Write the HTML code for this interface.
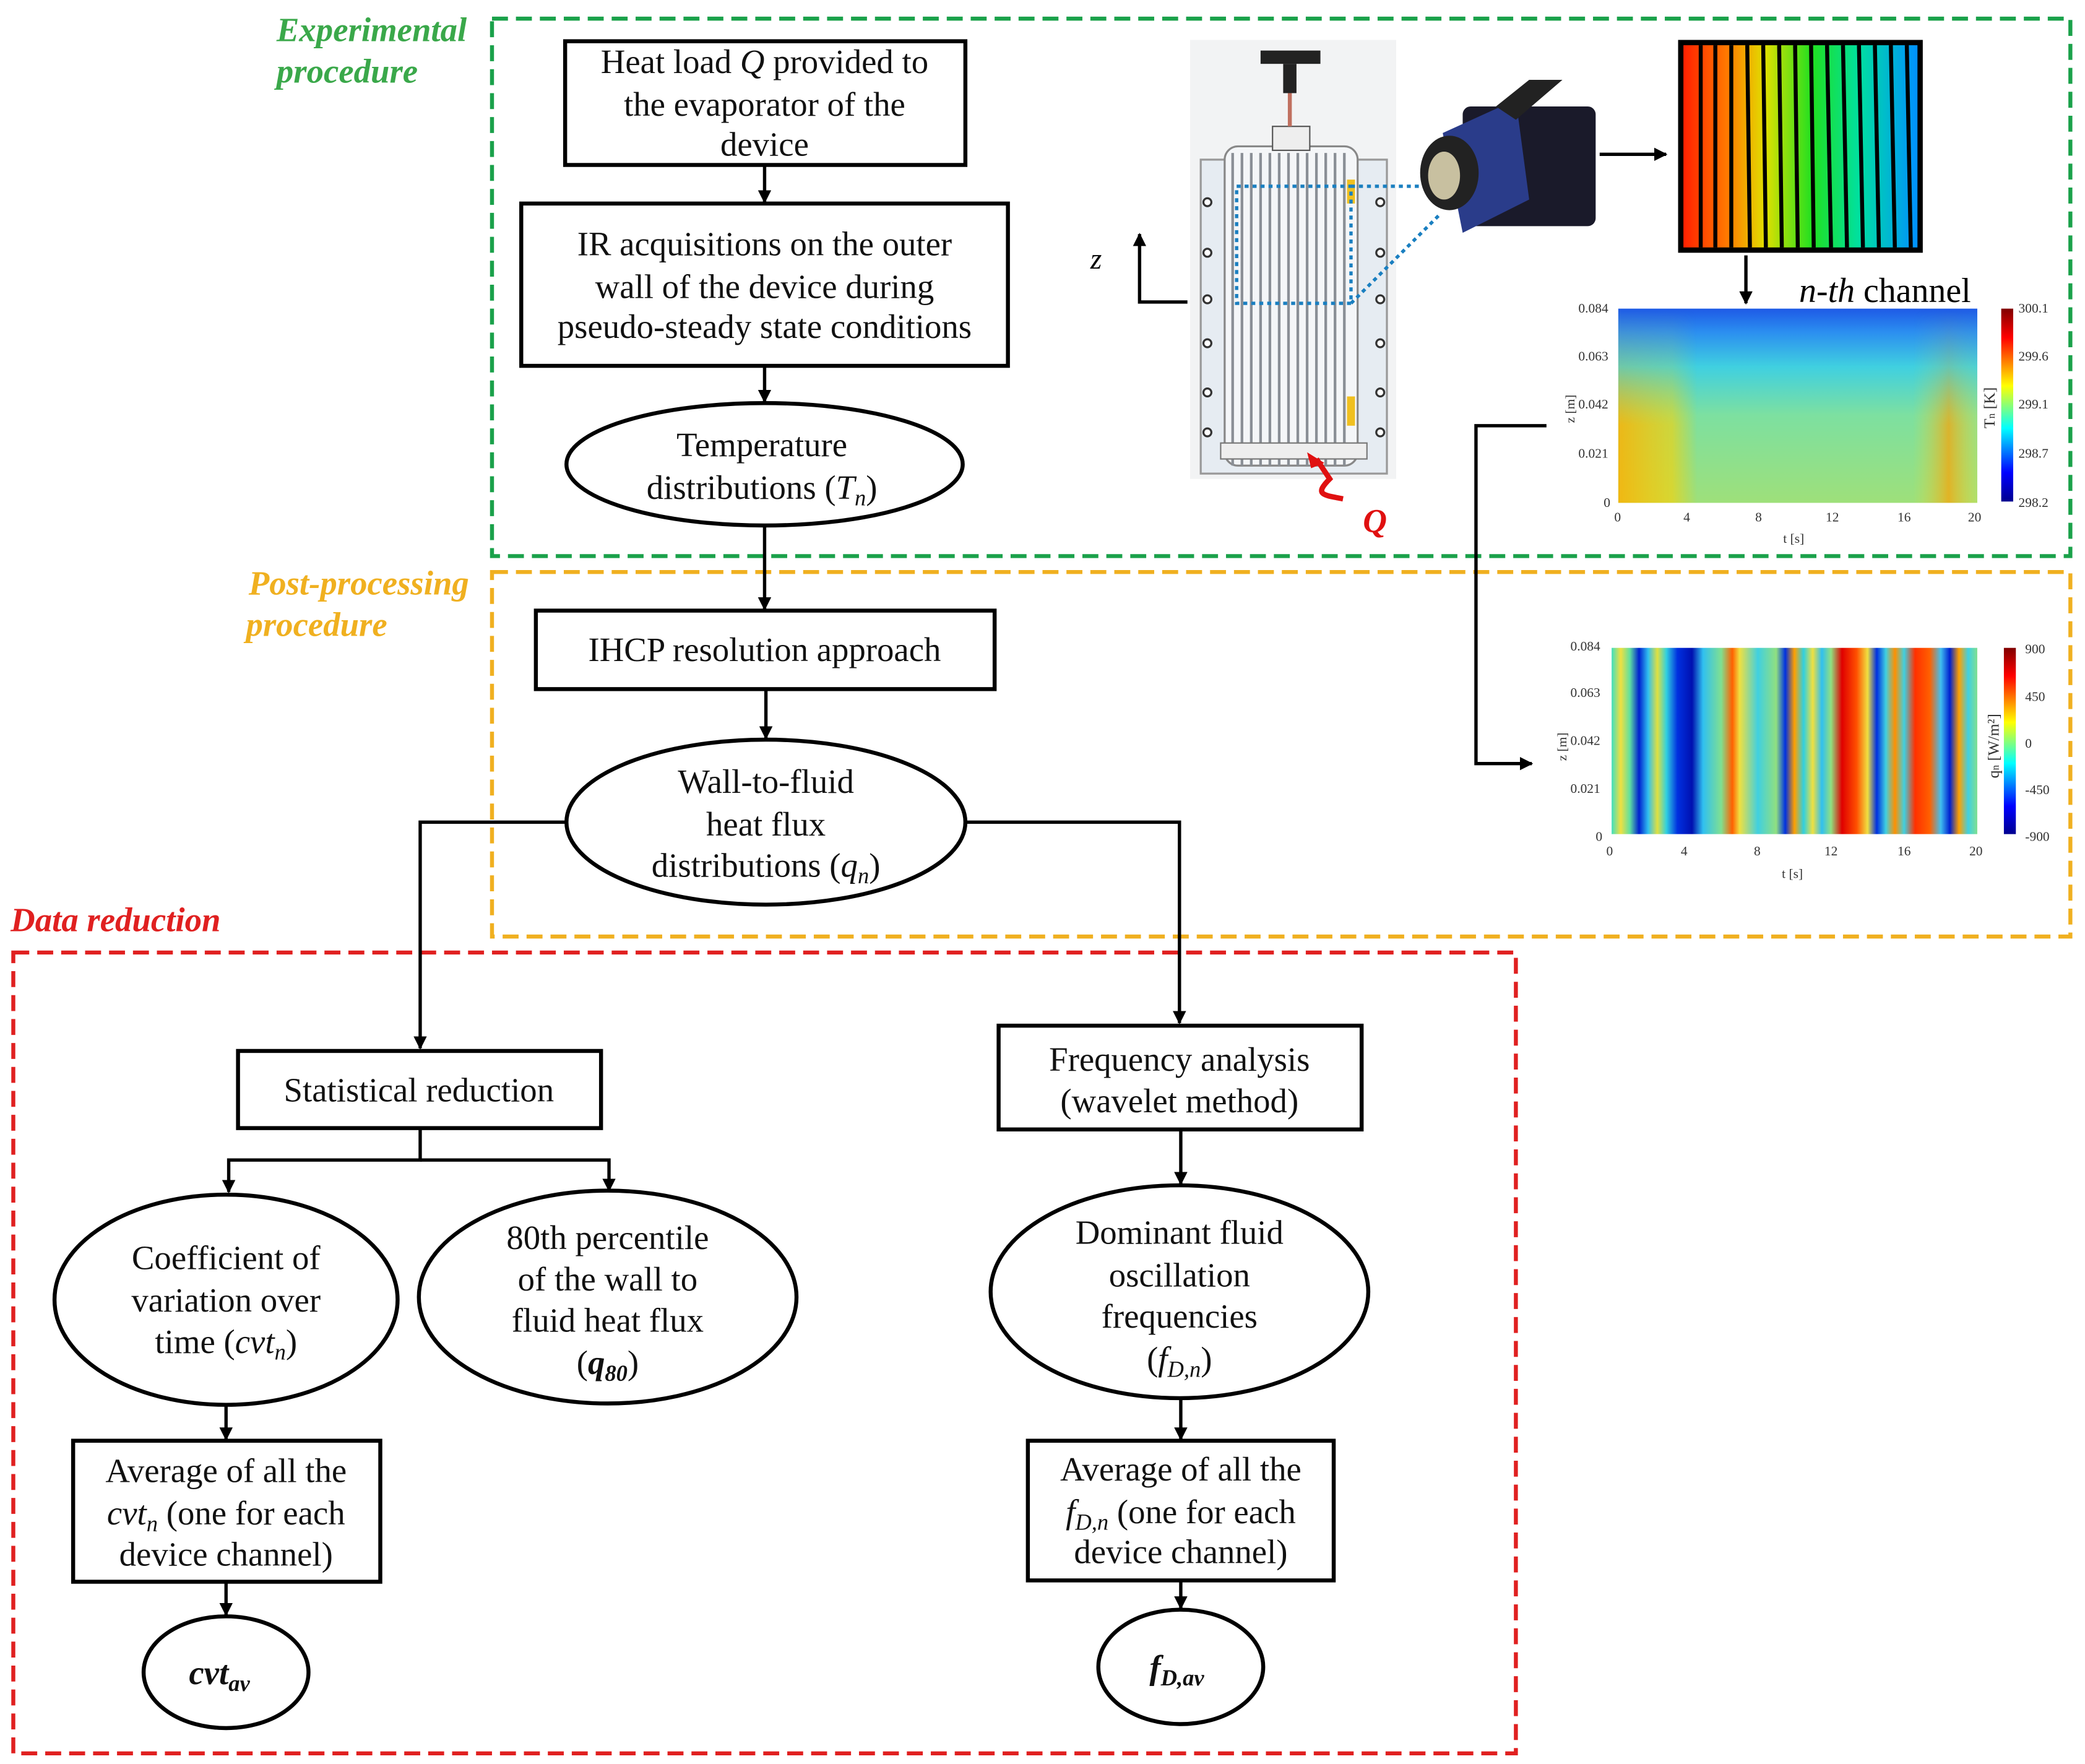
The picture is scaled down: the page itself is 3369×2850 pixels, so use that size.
<!DOCTYPE html>
<html><head><meta charset="utf-8"><style>
html,body{margin:0;padding:0;background:#fff}
svg{display:block}
text{font-family:"Liberation Serif",serif;}
</style></head><body>
<svg width="3369" height="2850" viewBox="0 0 1568 1326" preserveAspectRatio="none" xmlns="http://www.w3.org/2000/svg">
<defs>
<marker id="ar" markerWidth="10" markerHeight="10" refX="9" refY="5" orient="auto" markerUnits="userSpaceOnUse"><path d="M0,0 L10,5 L0,10 z" fill="#000"/></marker>
<linearGradient id="jet" x1="0" y1="1" x2="0" y2="0"><stop offset="0" stop-color="#00008f"/><stop offset="0.15" stop-color="#0000ff"/><stop offset="0.38" stop-color="#00ffff"/><stop offset="0.6" stop-color="#ffff00"/><stop offset="0.85" stop-color="#ff0000"/><stop offset="1" stop-color="#800000"/></linearGradient>
<linearGradient id="h1v" x1="0" y1="0" x2="0" y2="1"><stop offset="0" stop-color="#1e5ae6"/><stop offset="0.12" stop-color="#2b8ef0"/><stop offset="0.3" stop-color="#40d0e0"/><stop offset="0.55" stop-color="#7de0a0"/><stop offset="1" stop-color="#9ee07a"/></linearGradient>
<linearGradient id="h1h" x1="0" y1="0" x2="1" y2="0"><stop offset="0" stop-color="#ffb000" stop-opacity="0.85"/><stop offset="0.15" stop-color="#ffd000" stop-opacity="0.6"/><stop offset="0.22" stop-color="#ffd000" stop-opacity="0"/><stop offset="0.82" stop-color="#e0e040" stop-opacity="0"/><stop offset="0.92" stop-color="#ffa000" stop-opacity="0.7"/><stop offset="1" stop-color="#e0e040" stop-opacity="0.3"/></linearGradient>
<linearGradient id="h1m" x1="0" y1="0" x2="0" y2="1"><stop offset="0" stop-color="#fff" stop-opacity="0"/><stop offset="0.3" stop-color="#fff" stop-opacity="0.3"/><stop offset="0.6" stop-color="#fff" stop-opacity="1"/><stop offset="1" stop-color="#fff" stop-opacity="1"/></linearGradient>
<mask id="m1"><rect x="1217" y="232" width="270" height="146" fill="url(#h1m)"/></mask>
<linearGradient id="h2" x1="0" y1="0" x2="1" y2="0">
<stop offset="0" stop-color="#40e0c0"/><stop offset="0.025" stop-color="#f0e040"/><stop offset="0.05" stop-color="#60e0a0"/><stop offset="0.075" stop-color="#0020d0"/><stop offset="0.1" stop-color="#30c0f0"/><stop offset="0.125" stop-color="#e0e040"/><stop offset="0.15" stop-color="#30d0e0"/><stop offset="0.18" stop-color="#0030e0"/><stop offset="0.22" stop-color="#0010b0"/><stop offset="0.25" stop-color="#30c0f0"/><stop offset="0.3" stop-color="#80e090"/><stop offset="0.33" stop-color="#ff6000"/><stop offset="0.35" stop-color="#f0e040"/><stop offset="0.4" stop-color="#40d0e0"/><stop offset="0.45" stop-color="#90e080"/><stop offset="0.475" stop-color="#0030e0"/><stop offset="0.5" stop-color="#ffa000"/><stop offset="0.525" stop-color="#30d0e0"/><stop offset="0.55" stop-color="#f0e040"/><stop offset="0.575" stop-color="#30c0f0"/><stop offset="0.6" stop-color="#90e080"/><stop offset="0.63" stop-color="#e00000"/><stop offset="0.67" stop-color="#ff5000"/><stop offset="0.7" stop-color="#f0e040"/><stop offset="0.725" stop-color="#0030e0"/><stop offset="0.75" stop-color="#40d0e0"/><stop offset="0.775" stop-color="#ff9000"/><stop offset="0.8" stop-color="#40d0e0"/><stop offset="0.83" stop-color="#ff3000"/><stop offset="0.87" stop-color="#ff6000"/><stop offset="0.9" stop-color="#40c0f0"/><stop offset="0.925" stop-color="#0020d0"/><stop offset="0.95" stop-color="#ffa000"/><stop offset="0.975" stop-color="#40d0e0"/><stop offset="1" stop-color="#80e090"/></linearGradient>
<linearGradient id="ir" x1="0" y1="0" x2="1" y2="0"><stop offset="0" stop-color="#ff2000"/><stop offset="0.2" stop-color="#ff8000"/><stop offset="0.35" stop-color="#e0e000"/><stop offset="0.55" stop-color="#20e020"/><stop offset="0.75" stop-color="#00e0a0"/><stop offset="1" stop-color="#0090ff"/></linearGradient>
</defs>

<rect x="370" y="14" width="1187" height="404" fill="none" stroke="#1aa14a" stroke-width="3" stroke-dasharray="12,6"/>
<rect x="370" y="430" width="1187" height="274" fill="none" stroke="#f0b020" stroke-width="3" stroke-dasharray="12,6"/>
<rect x="10" y="716" width="1130" height="602" fill="none" stroke="#e02020" stroke-width="3" stroke-dasharray="12,6"/>
<g font-style="italic" font-weight="bold" font-size="25.5">
<text x="208" y="31" fill="#3aa84a">Experimental</text><text x="208" y="62" fill="#3aa84a">procedure</text>
<text x="187" y="447" fill="#f0b020">Post-processing</text><text x="185" y="478" fill="#f0b020">procedure</text>
<text x="8" y="700" fill="#e02020">Data reduction</text>
</g>

<g fill="none" stroke="#000" stroke-width="3">
<rect x="425" y="31" width="301" height="93" fill="#fff"/>
<rect x="392" y="153" width="366" height="122" fill="#fff"/>
<ellipse cx="575" cy="349" rx="149" ry="46"/>
<rect x="403" y="459" width="345" height="59"/>
<ellipse cx="576" cy="618" rx="150" ry="62"/>
<rect x="179" y="790" width="273" height="58"/>
<rect x="751" y="771" width="273" height="78"/>
<ellipse cx="170" cy="977" rx="129" ry="79"/>
<ellipse cx="457" cy="975" rx="142" ry="80"/>
<ellipse cx="887" cy="971" rx="142" ry="80"/>
<rect x="55" y="1083" width="231" height="106"/>
<rect x="773" y="1083" width="230" height="105"/>
<ellipse cx="170" cy="1257" rx="62" ry="42"/>
<ellipse cx="888" cy="1253" rx="62" ry="43"/>
</g>
<g fill="none" stroke="#000" stroke-width="2.5" marker-end="url(#ar)">
<line x1="575" y1="124" x2="575" y2="152"/>
<line x1="575" y1="275" x2="575" y2="302"/>
<line x1="575" y1="395" x2="575" y2="458"/>
<line x1="576" y1="518" x2="576" y2="555"/>
<polyline points="426,618 316,618 316,788"/>
<polyline points="726,618 887,618 887,769"/>
<polyline points="316,848 316,872 172,872 172,896"/>
<polyline points="316,872 458,872 458,895"/>
<line x1="888" y1="849" x2="888" y2="890"/>
<line x1="170" y1="1056" x2="170" y2="1082"/>
<line x1="888" y1="1051" x2="888" y2="1082"/>
<line x1="170" y1="1189" x2="170" y2="1214"/>
<line x1="888" y1="1188" x2="888" y2="1209"/>
<line x1="1203" y1="116" x2="1253" y2="116"/>
<line x1="1313" y1="192" x2="1313" y2="228"/>
<polyline points="1163,320 1110,320 1110,574 1152,574"/>
<polyline points="893,227 857,227 857,176"/>
</g>

<g font-size="25.5" text-anchor="middle" fill="#111">
<text x="575" y="55">Heat load <tspan font-style="italic">Q</tspan> provided to</text>
<text x="575" y="87">the evaporator of the</text>
<text x="575" y="117">device</text>
<text x="575" y="192">IR acquisitions on the outer</text>
<text x="575" y="224">wall of the device during</text>
<text x="575" y="254">pseudo-steady state conditions</text>
<text x="573" y="343">Temperature</text>
<text x="573" y="375">distributions (<tspan font-style="italic">T<tspan font-size="17" dy="5">n</tspan></tspan><tspan dy="-5">)</tspan></text>
<text x="575" y="497">IHCP resolution approach</text>
<text x="576" y="596">Wall-to-fluid</text>
<text x="576" y="628">heat flux</text>
<text x="576" y="659">distributions (<tspan font-style="italic">q<tspan font-size="17" dy="5">n</tspan></tspan><tspan dy="-5">)</tspan></text>
<text x="315" y="828">Statistical reduction</text>
<text x="887" y="805">Frequency analysis</text>
<text x="887" y="836">(wavelet method)</text>
<text x="170" y="954">Coefficient of</text>
<text x="170" y="986">variation over</text>
<text x="170" y="1017">time (<tspan font-style="italic">cvt<tspan font-size="17" dy="5">n</tspan></tspan><tspan dy="-5">)</tspan></text>
<text x="457" y="939">80th percentile</text>
<text x="457" y="970">of the wall to</text>
<text x="457" y="1001">fluid heat flux</text>
<text x="457" y="1033">(<tspan font-style="italic" font-weight="bold">q<tspan font-size="17" dy="5">80</tspan></tspan><tspan dy="-5">)</tspan></text>
<text x="887" y="935">Dominant fluid</text>
<text x="887" y="967">oscillation</text>
<text x="887" y="998">frequencies</text>
<text x="887" y="1030">(<tspan font-style="italic">f<tspan font-size="17" dy="5">D,n</tspan></tspan><tspan dy="-5">)</tspan></text>
<text x="170" y="1114">Average of all the</text>
<text x="170" y="1146"><tspan font-style="italic">cvt<tspan font-size="17" dy="5">n</tspan></tspan><tspan dy="-5"> (one for each</tspan></text>
<text x="170" y="1177">device channel)</text>
<text x="888" y="1113">Average of all the</text>
<text x="888" y="1145"><tspan font-style="italic">f<tspan font-size="17" dy="5">D,n</tspan></tspan><tspan dy="-5"> (one for each</tspan></text>
<text x="888" y="1175">device channel)</text>
<text x="165" y="1266" font-style="italic" font-weight="bold">cvt<tspan font-size="17" dy="5">av</tspan></text>
<text x="885" y="1262" font-style="italic" font-weight="bold">f<tspan font-size="17" dy="5">D,av</tspan></text>
</g>

<rect x="895" y="30" width="155" height="330" fill="#f2f3f4"/>
<rect x="903" y="120" width="140" height="236" fill="#e6ecf2" stroke="#999" stroke-width="1.5"/>
<rect x="921" y="110" width="100" height="240" rx="10" fill="#f4f6f8" stroke="#888" stroke-width="1.5"/>
<g stroke="#8a8f96" stroke-width="2">
<line x1="927" y1="115" x2="927" y2="350"/><line x1="934" y1="115" x2="934" y2="350"/><line x1="941" y1="115" x2="941" y2="350"/><line x1="948" y1="115" x2="948" y2="350"/><line x1="955" y1="115" x2="955" y2="350"/><line x1="962" y1="115" x2="962" y2="350"/><line x1="969" y1="115" x2="969" y2="350"/><line x1="976" y1="115" x2="976" y2="350"/><line x1="983" y1="115" x2="983" y2="350"/><line x1="990" y1="115" x2="990" y2="350"/><line x1="997" y1="115" x2="997" y2="350"/><line x1="1004" y1="115" x2="1004" y2="350"/><line x1="1011" y1="115" x2="1011" y2="350"/>
</g>
<rect x="918" y="333" width="110" height="12" fill="#eee" stroke="#777"/>
<rect x="957" y="95" width="28" height="18" fill="#eee" stroke="#555"/>
<line x1="970" y1="70" x2="970" y2="95" stroke="#c07060" stroke-width="3"/>
<rect x="948" y="38" width="45" height="10" fill="#222"/><rect x="965" y="48" width="10" height="22" fill="#222"/>
<rect x="1013" y="135" width="6" height="18" fill="#f0c020"/><rect x="1013" y="298" width="6" height="22" fill="#f0c020"/>
<g fill="#fff" stroke="#333" stroke-width="1.5"><circle cx="908" cy="152" r="3"/><circle cx="908" cy="190" r="3"/><circle cx="908" cy="225" r="3"/><circle cx="908" cy="258" r="3"/><circle cx="908" cy="295" r="3"/><circle cx="908" cy="325" r="3"/><circle cx="1038" cy="152" r="3"/><circle cx="1038" cy="190" r="3"/><circle cx="1038" cy="225" r="3"/><circle cx="1038" cy="258" r="3"/><circle cx="1038" cy="295" r="3"/><circle cx="1038" cy="325" r="3"/></g>
<g fill="none" stroke="#1a7fc0" stroke-width="2.5" stroke-dasharray="3,3">
<rect x="930" y="140" width="86" height="88"/><line x1="1016" y1="140" x2="1080" y2="140"/><line x1="1016" y1="228" x2="1082" y2="162"/>
</g>
<path d="M1010,375 C995,372 988,372 1000,360 L990,345" fill="none" stroke="#e01010" stroke-width="4"/>
<path d="M983,340 L996,348 L986,352 z" fill="#e01010"/>
<text x="1025" y="400" font-size="25" font-style="italic" font-weight="bold" fill="#e01010">Q</text>
<text x="820" y="202" font-size="22" font-style="italic">z</text>

<rect x="1100" y="80" width="100" height="90" rx="6" fill="#1a1a2a"/>
<path d="M1085,100 L1140,75 L1150,150 L1100,175 z" fill="#2a3c8a"/>
<path d="M1125,80 L1150,60 L1175,60 L1140,90 z" fill="#222"/>
<ellipse cx="1090" cy="130" rx="22" ry="28" fill="#222"/>
<ellipse cx="1086" cy="132" rx="12" ry="18" fill="#c8c0a0"/>

<rect x="1262" y="30" width="184" height="160" fill="#000"/>
<rect x="1266" y="34" width="176" height="152" fill="url(#ir)"/>
<g stroke="#000" stroke-width="3">
<line x1="1279" y1="34" x2="1279" y2="186"/><line x1="1290" y1="34" x2="1290" y2="186"/><line x1="1302" y1="34" x2="1302" y2="186"/><line x1="1314" y1="34" x2="1316" y2="186"/><line x1="1326" y1="34" x2="1328" y2="186"/><line x1="1338" y1="34" x2="1340" y2="186"/><line x1="1350" y1="34" x2="1352" y2="186"/><line x1="1362" y1="34" x2="1364" y2="186"/><line x1="1374" y1="34" x2="1377" y2="186"/><line x1="1386" y1="34" x2="1389" y2="186"/><line x1="1398" y1="34" x2="1401" y2="186"/><line x1="1410" y1="34" x2="1413" y2="186"/><line x1="1422" y1="34" x2="1425" y2="186"/><line x1="1434" y1="34" x2="1437" y2="186"/>
</g>

<text x="1353" y="227" font-size="26"><tspan font-style="italic">n-th</tspan> channel</text>

<rect x="1217" y="232" width="270" height="146" fill="url(#h1v)"/>
<rect x="1217" y="232" width="270" height="146" fill="url(#h1h)" mask="url(#m1)"/>
<rect x="1505" y="232" width="9" height="145" fill="url(#jet)"/>
<g font-size="10" fill="#333">
<text x="1187" y="235">0.084</text><text x="1187" y="271">0.063</text><text x="1187" y="307">0.042</text><text x="1187" y="344">0.021</text><text x="1206" y="381">0</text>
<text x="1214" y="392">0</text><text x="1266" y="392">4</text><text x="1320" y="392">8</text><text x="1373" y="392">12</text><text x="1427" y="392">16</text><text x="1480" y="392">20</text>
<text x="1341" y="408">t [s]</text>
<text x="1518" y="235">300.1</text><text x="1518" y="271">299.6</text><text x="1518" y="307">299.1</text><text x="1518" y="344">298.7</text><text x="1518" y="381">298.2</text>
<text transform="translate(1184,318) rotate(-90)">z [m]</text>
<text transform="translate(1500,322) rotate(-90)" font-size="12">T<tspan font-size="8">n</tspan> [K]</text>
</g>

<rect x="1212" y="487" width="275" height="140" fill="url(#h2)"/>
<rect x="1507" y="487" width="9" height="140" fill="url(#jet)"/>
<g font-size="10" fill="#333">
<text x="1181" y="489">0.084</text><text x="1181" y="524">0.063</text><text x="1181" y="560">0.042</text><text x="1181" y="596">0.021</text><text x="1200" y="632">0</text>
<text x="1208" y="643">0</text><text x="1264" y="643">4</text><text x="1319" y="643">8</text><text x="1372" y="643">12</text><text x="1427" y="643">16</text><text x="1481" y="643">20</text>
<text x="1340" y="660">t [s]</text>
<text x="1523" y="491">900</text><text x="1523" y="527">450</text><text x="1523" y="562">0</text><text x="1523" y="597">-450</text><text x="1523" y="632">-900</text>
<text transform="translate(1178,572) rotate(-90)">z [m]</text>
<text transform="translate(1503,585) rotate(-90)" font-size="12">q<tspan font-size="8">n</tspan> [W/m²]</text>
</g>
</svg>
</body></html>
